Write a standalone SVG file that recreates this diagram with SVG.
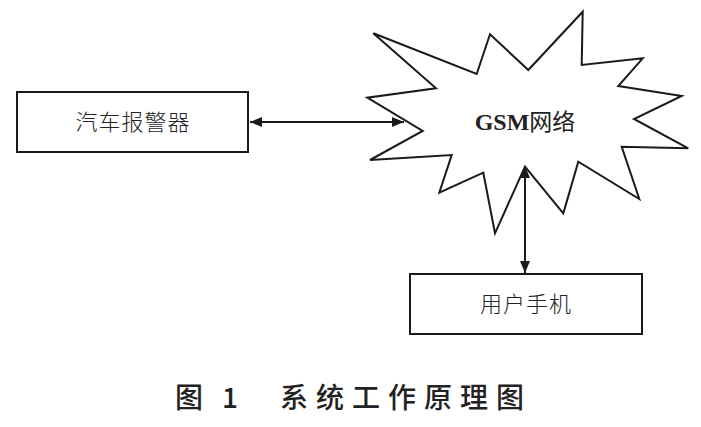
<svg xmlns="http://www.w3.org/2000/svg" width="701" height="427" viewBox="0 0 701 427">
<style>
.box{fill:#fff;stroke:#1a1a1a;stroke-width:2}
.star{fill:#fff;stroke:#1a1a1a;stroke-width:2;stroke-linejoin:miter}
.lbl{font-family:"Noto Sans CJK SC",sans-serif;font-size:22px;fill:#222;text-anchor:middle;letter-spacing:1px;font-weight:300}
.conn{stroke:#1a1a1a;stroke-width:2;fill:none}
.cap{font-family:"Noto Sans CJK SC",serif;font-size:28px;fill:#222;font-weight:500}
</style>
<defs>
<marker id="ah" viewBox="0 0 12 10" refX="12" refY="5" markerWidth="12" markerHeight="10" markerUnits="userSpaceOnUse" orient="auto-start-reverse">
<path d="M0,0 L12,5 L0,10 Z" fill="#1a1a1a"/>
</marker>
</defs>
<rect width="701" height="427" fill="#fff"/>
<g id="alarm">
<rect class="box" x="17" y="92" width="231" height="60"/>
<text class="lbl" x="133" y="130">汽车报警器</text>
</g>
<g id="gsm">
<polygon class="star" points="373.3,33.3 476.7,74 490,34.3 528.3,70 582.7,11.7 581.7,65 642.7,58.3 618.3,86 681.7,96 634,119 688.3,148.3 621.7,146.7 639.3,199 578.3,161.7 563.3,213.3 525,166.7 495,233.3 483.3,172.7 439.3,192.7 451.7,155 370,160 422.7,131 367.3,97.7 436,88.3"/>
<text x="525" y="130" text-anchor="middle" style="font-family:'Liberation Serif','Noto Sans CJK SC',serif;font-size:24px;fill:#222;font-weight:bold">GSM<tspan style="font-family:'Noto Sans CJK SC',sans-serif;font-weight:normal;font-size:23px">网络</tspan></text>
</g>
<g id="phone">
<rect class="box" x="410" y="274" width="232" height="60"/>
<text class="lbl" x="526" y="312">用户手机</text>
</g>
<g id="connectors">
<line class="conn" x1="250" y1="122" x2="404" y2="122" marker-start="url(#ah)" marker-end="url(#ah)"/>
<line class="conn" x1="525" y1="166" x2="525" y2="273" marker-start="url(#ah)" marker-end="url(#ah)"/>
</g>
<text class="cap" x="175" y="408">图</text>
<text class="cap" x="222" y="408">1</text>
<text class="cap" x="280" y="408" style="letter-spacing:8px">系统工作原理图</text>
</svg>
